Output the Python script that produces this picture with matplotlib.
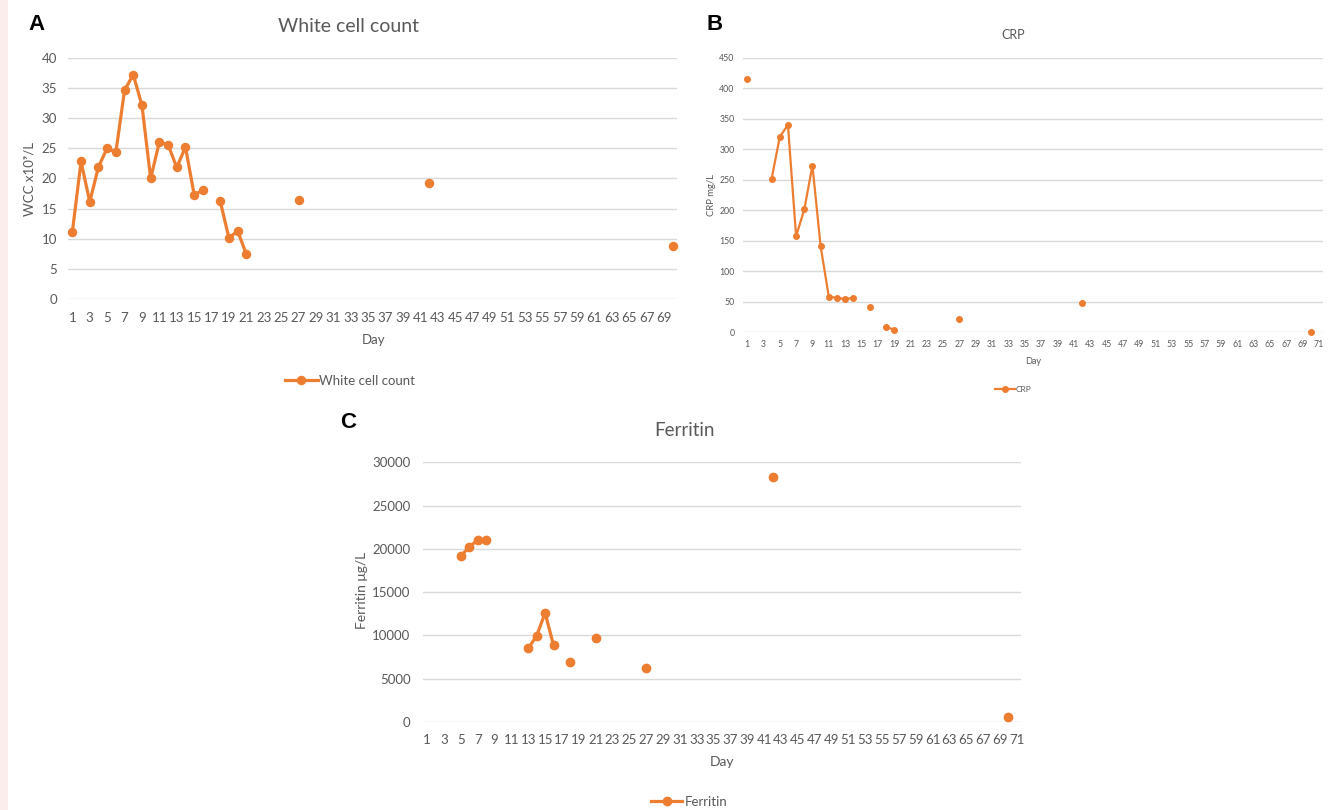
import numpy as np
import pandas as pd
import matplotlib
matplotlib.use("Agg")
import matplotlib.pyplot as plt
from matplotlib.lines import Line2D

# ---------------------------------------------------------------------------
# data
# ---------------------------------------------------------------------------
wcc_days = [1, 2, 3, 4, 5, 6, 7, 8, 9, 10, 11, 12, 13, 14, 15, 16,
            18, 19, 20, 21, 27, 42, 70]
wcc_vals = [11.1, 22.8, 16.1, 21.9, 25.0, 24.3, 34.6, 37.2, 32.1, 20.0,
            26.0, 25.6, 21.8, 25.2, 17.3, 18.0,
            16.2, 10.1, 11.3, 7.4, 16.4, 19.3, 8.8]

crp_days = [1, 4, 5, 6, 7, 8, 9, 10, 11, 12, 13, 14, 16, 18, 19, 27, 42, 70]
crp_vals = [415, 251, 320, 340, 157, 201, 273, 141, 58, 56, 54, 56,
            41, 8, 4, 22, 48, 0.5]

fer_days = [5, 6, 7, 8, 13, 14, 15, 16, 18, 21, 27, 42, 70]
fer_vals = [19200, 20200, 21050, 21050, 8500, 9980, 12600, 8850,
            6950, 9700, 6200, 28250, 620]

W, H = 1335, 810
ORANGE = "#ED7D31"
GRID = "#D9D9D9"
TXT = "#595959"
FONT = ["Lato", "DejaVu Sans"]

plt.rcParams["font.family"] = FONT


def px_axes(fig, left, top, right, bottom):
    """Axes placed by pixel edges of the 1335x810 canvas."""
    return fig.add_axes([left / W, 1 - bottom / H, (right - left) / W, (bottom - top) / H])


def ftext(fig, x, y, s, **kw):
    fig.text(x / W, 1 - y / H, s, **kw)


def full_series(days, vals, n_cat):
    # Excel-style category axis: missing days break the line
    s = pd.Series(vals, index=days, dtype=float)
    return s.reindex(range(1, n_cat + 1))


def draw_panel(ax, days, vals, n_cat, ymax, ystep, ms, lw, tick_fs, xpad, ypad):
    s = full_series(days, vals, n_cat)
    ax.plot(s.index, s.values, color=ORANGE, lw=lw, marker="o", ms=ms,
            mec=ORANGE, mfc=ORANGE, solid_capstyle="round", zorder=3)
    ax.set_xlim(0.5, n_cat + 0.5)
    ax.set_ylim(0, ymax)
    ax.set_yticks(np.arange(0, ymax + 1, ystep))
    ax.set_xticks(np.arange(1, n_cat + 1, 2))
    ax.grid(axis="y", color=GRID, lw=1.0)
    ax.set_axisbelow(True)
    for sp in ax.spines.values():
        sp.set_visible(False)
    ax.tick_params(length=0, labelsize=tick_fs, labelcolor=TXT)
    ax.tick_params(axis="x", pad=xpad)
    ax.tick_params(axis="y", pad=ypad)
    ax.set_clip_on(False)
    for ln in ax.lines:
        ln.set_clip_on(False)


fig = plt.figure(figsize=(W / 100, H / 100), dpi=100)
fig.patch.set_facecolor("white")

# left pink strip of the source page
fig.patches.append(plt.Rectangle((0, 0), 8 / W, 1, transform=fig.transFigure,
                                 facecolor="#FCEDED", edgecolor="none"))

# ---------------- A: white cell count ----------------
axA = px_axes(fig, 68, 57.7, 677, 299)
draw_panel(axA, wcc_days, wcc_vals, 70, 40, 5, ms=5.8, lw=2.3, tick_fs=9.5,
           xpad=9, ypad=8)
ftext(fig, 349, 26, "White cell count", fontsize=14, color=TXT, ha="center", va="center")
ftext(fig, 374, 340, "Day", fontsize=9.5, color=TXT, ha="center", va="center")
ftext(fig, 30, 179, "WCC x10\u2079/L", fontsize=9.5, color=TXT, ha="center",
      va="center", rotation=90)
ftext(fig, 28, 25, "A", fontsize=16, fontweight="bold", family="Liberation Sans",
      ha="left", va="center")

# ---------------- B: CRP ----------------
axB = px_axes(fig, 743, 57.7, 1323, 332)
draw_panel(axB, crp_days, crp_vals, 71, 450, 50, ms=4.0, lw=1.6, tick_fs=6.3,
           xpad=6, ypad=6)
ftext(fig, 1013, 35, "CRP", fontsize=9, color=TXT, ha="center", va="center")
ftext(fig, 1033, 361, "Day", fontsize=6.5, color=TXT, ha="center", va="center")
ftext(fig, 711, 195, "CRP mg/L", fontsize=6.8, color=TXT, ha="center",
      va="center", rotation=90)
ftext(fig, 706, 24, "B", fontsize=16, fontweight="bold", family="Liberation Sans",
      ha="left", va="center")

# ---------------- C: ferritin ----------------
axC = px_axes(fig, 423, 462.3, 1021, 722)
draw_panel(axC, fer_days, fer_vals, 71, 30000, 5000, ms=6.0, lw=2.3, tick_fs=9.5,
           xpad=9, ypad=9)
ftext(fig, 685, 431, "Ferritin", fontsize=13.5, color=TXT, ha="center", va="center")
ftext(fig, 722, 762, "Day", fontsize=10, color=TXT, ha="center", va="center")
ftext(fig, 362, 590, "Ferritin \u03bcg/L", fontsize=10, color=TXT, ha="center",
      va="center", rotation=90)
ftext(fig, 340, 422, "C", fontsize=16, fontweight="bold", family="Liberation Sans",
      ha="left", va="center")


# ---------------- legends ----------------
def legend_at(ax, label, x, y, fs, ms, lw, hl):
    h = Line2D([], [], color=ORANGE, lw=lw, marker="o", ms=ms, mfc=ORANGE, mec=ORANGE)
    leg = ax.legend([h], [label], loc="center", bbox_to_anchor=(x / W, 1 - y / H),
                    bbox_transform=fig.transFigure, frameon=False, fontsize=fs,
                    handlelength=hl, handletextpad=0.15, borderpad=0,
                    labelcolor=TXT)
    return leg


legend_at(axA, "White cell count", 350, 381, 9.5, 5.8, 2.3, 2.5)
legend_at(axB, "CRP", 1013, 389, 6.0, 4.0, 1.6, 2.4)
legend_at(axC, "Ferritin", 689, 802, 9.5, 6.0, 2.3, 2.4)

fig.savefig("out.png", dpi=100)
